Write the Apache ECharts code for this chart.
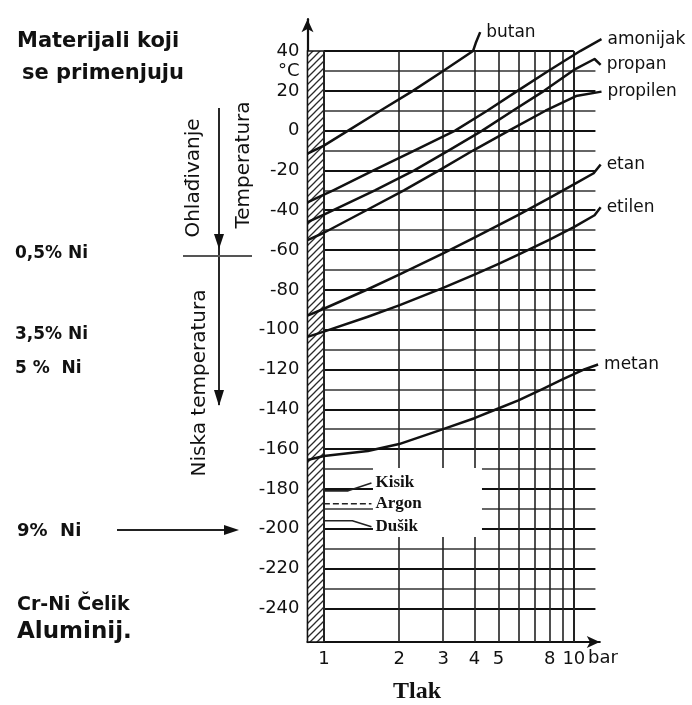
<!DOCTYPE html>
<html><head><meta charset="utf-8">
<script src="https://cdn.jsdelivr.net/npm/echarts@6/dist/echarts.min.js"></script>
<style>html,body{margin:0;padding:0;background:#fff}#c{width:692px;height:705px}</style>
</head><body><div id="c"></div>
<script>
// ---- data (pressure in bar, temperature in °C) ----
const butanP    = [0.86, 1, 1.25, 1.68, 2.27, 3.0, 3.95, 4.05, 4.22];
const butanT    = [-11.5, -7.5, 0, 10, 20, 30, 40, 44, 49.5];
const amonijakP = [0.86, 1, 1.09, 1.58, 2.3, 3.35, 4.5, 5.95, 7.9, 10.6, 12.9];
const amonijakT = [-36, -32.2, -30, -20, -10, 0, 10, 20, 30, 40, 46];
const propanP   = [0.86, 1, 1.6, 2.3, 3.15, 4.3, 5.7, 7.6, 10.0, 12.1, 12.8];
const propanT   = [-46, -42.2, -30, -20, -10, 0, 10, 20, 30.5, 36, 33];
const propilenP = [0.86, 1, 1.48, 2.09, 2.89, 3.95, 5.5, 7.7, 10.2, 12.9];
const propilenT = [-55, -51.3, -40, -30, -20, -10, 0, 10, 17.4, 19.6];
const etanP     = [0.86, 1, 1.5, 2, 3, 4, 5, 6, 8, 10, 12.0, 12.8];
const etanT     = [-93, -89.5, -79.7, -72.4, -61.7, -53.8, -47.5, -42.3, -33.8, -27, -21.4, -17];
const etilenP   = [0.86, 1, 1.5, 2, 3, 4, 5, 6, 8, 10, 12.1, 12.8];
const etilenT   = [-103.6, -101, -93.5, -87.8, -79, -72.3, -66.9, -62.3, -54.7, -48.5, -42.5, -38.5];
const metanP    = [0.86, 1, 1.5, 2, 3, 4, 4.9, 6, 7.45, 9, 11, 12.5];
const metanT    = [-165.5, -163.5, -161, -157.5, -150, -144.5, -140, -135.5, -130, -125, -120, -117.5];
const kisikP    = [1.0, 1.25, 1.55];
const kisikT    = [-181, -181, -177];
const argonP    = [1.0, 1.55];
const argonT    = [-187.5, -187.5];
const dusikP    = [1.0, 1.3, 1.55];
const dusikT    = [-196, -196, -199];

const gridTemps = [40,30,20,10,0,-10,-20,-30,-40,-50,-60,-70,-80,-90,-100,-110,-120,-130,-140,-150,-160,-170,-180,-190,-200,-210,-220,-230,-240];
const gridPress = [1,2,3,4,5,6,7,8,9,10];
const xTickLabels = [1,2,3,4,5,8,10];
const yTickLabels = [40,30,20,0,-20,-40,-60,-80,-100,-120,-140,-160,-180,-200,-220,-240];

const pMin = 0.86, pMax = 12.7, pGridEnd = 12.2, tMin = -257, tMax = 56, tTop = 40;
const boxP = [1.572, 4.29], boxT = [-169.5, -204.2];

// ---- helpers ----
const L = p => Math.log10(p);
const pts = (P, T) => P.map((p, i) => [L(p), T[i]]);
const FONT = 'DejaVu Sans';

// hatch pattern
const hc = document.createElement('canvas');
hc.width = 7; hc.height = 7;
const g = hc.getContext('2d');
g.fillStyle = '#fff'; g.fillRect(0,0,7,7);
g.strokeStyle = '#2a2a2a'; g.lineWidth = 1.3;
g.beginPath();
g.moveTo(-1,8); g.lineTo(8,-1);
g.moveTo(-1,1); g.lineTo(1,-1);
g.moveTo(6,8); g.lineTo(8,6);
g.stroke();

const gridData = [];
gridTemps.forEach(t => gridData.push({
  coords: [[L(1), t], [L(t === tTop ? 10 : pGridEnd), t]],
  lineStyle: { width: t % 20 === 0 ? 2 : 1.6, color: t % 20 === 0 ? '#111' : '#333' }
}));
gridPress.forEach(p => gridData.push({
  coords: [[L(p), tMin], [L(p), tTop]],
  lineStyle: { width: (p === 1 || p === 10) ? 2 : 1.6, color: '#222' }
}));

function curve(name, P, T, extra) {
  return Object.assign({
    name, type: 'line', z: 3, data: pts(P, T), symbol: 'none', smooth: false,
    clip: false, silent: true, animation: false,
    lineStyle: { color: '#111', width: 2.5, join: 'round' },
    endLabel: { show: true, formatter: name, distance: 6, color: '#111',
                fontFamily: FONT, fontSize: 17 }
  }, extra || {});
}
function gas(name, P, T, dashed) {
  return curve(name, P, T, {
    lineStyle: { color: '#222', width: 1.6, type: dashed ? [6, 3] : 'solid' },
    endLabel: { show: true, formatter: name, distance: 4, color: '#111',
                fontFamily: 'Liberation Serif', fontWeight: 'bold', fontSize: 17 }
  });
}

const chart = echarts.init(document.getElementById('c'), null, { renderer: 'canvas' });
chart.setOption({
  animation: false,
  backgroundColor: '#fff',
  grid: { left: 307.5, right: 92.2, top: 19.2, bottom: 62.9, containLabel: false, outerBoundsMode: 'none' },
  xAxis: {
    type: 'value', min: L(pMin), max: L(pMax),
    axisLine: { show: true, onZero: false, symbol: ['none', 'arrow'], symbolSize: [9, 13],
                lineStyle: { color: '#111', width: 2.2 } },
    axisTick: { show: false }, splitLine: { show: false },
    axisLabel: { customValues: xTickLabels.map(L), margin: 8, color: '#111', fontFamily: FONT, fontSize: 18,
                 formatter: v => String(Math.round(Math.pow(10, v))) }
  },
  yAxis: {
    type: 'value', min: tMin, max: tMax,
    axisLine: { show: true, onZero: false, symbol: ['none', 'arrow'], symbolSize: [9, 13],
                lineStyle: { color: '#111', width: 2.2 } },
    axisTick: { show: false }, splitLine: { show: false },
    axisLabel: { customValues: yTickLabels, margin: 8, color: '#111', fontFamily: FONT, fontSize: 18,
                 formatter: v => v === 30 ? '°C' : String(v) }
  },
  series: [
    {
      type: 'lines', coordinateSystem: 'cartesian2d', z: 1, silent: true, polyline: false,
      data: gridData, lineStyle: { color: '#222', width: 1.6, opacity: 1 },
      markArea: { silent: true, z: 1, label: { show: false },
        itemStyle: { color: { image: hc, repeat: 'repeat' }, borderColor: '#111', borderWidth: 1.5 },
        data: [[{ coord: [L(pMin), tMin] }, { coord: [L(1), tTop] }]] }
    },
    {
      type: 'line', z: 2, data: [[L(boxP[0]), boxT[0]]], symbol: 'none', silent: true,
      lineStyle: { width: 0, opacity: 0 },
      markArea: { silent: true, z: 2, label: { show: false }, itemStyle: { color: '#fff', opacity: 1 },
        data: [[{ coord: [L(boxP[0]), boxT[0]] }, { coord: [L(boxP[1]), boxT[1]] }]] }
    },
    curve('butan', butanP, butanT),
    curve('amonijak', amonijakP, amonijakT),
    curve('propan', propanP, propanT),
    curve('propilen', propilenP, propilenT),
    curve('etan', etanP, etanT),
    curve('etilen', etilenP, etilenT),
    curve('metan', metanP, metanT),
    gas('Kisik', kisikP, kisikT),
    gas('Argon', argonP, argonT, true),
    gas('Dušik', dusikP, dusikT)
  ],
  graphic: [
    { type: 'text', x: 17, y: 42, style: { text: 'Materijali koji', font: 'bold 21px "DejaVu Sans"', fill: '#111', verticalAlign: 'middle' } },
    { type: 'text', x: 22, y: 74, style: { text: 'se primenjuju', font: 'bold 21px "DejaVu Sans"', fill: '#111', verticalAlign: 'middle' } },
    { type: 'text', x: 194, y: 178, rotation: Math.PI / 2, style: { text: 'Ohlađivanje', font: '20px "DejaVu Sans"', fill: '#111', align: 'center', verticalAlign: 'middle' } },
    { type: 'text', x: 244, y: 165, rotation: Math.PI / 2, style: { text: 'Temperatura', font: '20px "DejaVu Sans"', fill: '#111', align: 'center', verticalAlign: 'middle' } },
    { type: 'text', x: 200, y: 383, rotation: Math.PI / 2, style: { text: 'Niska temperatura', font: '20px "DejaVu Sans"', fill: '#111', align: 'center', verticalAlign: 'middle' } },
    { type: 'text', x: 15, y: 254, style: { text: '0,5% Ni', font: 'bold 17px "DejaVu Sans"', fill: '#111', verticalAlign: 'middle' } },
    { type: 'text', x: 15, y: 335, style: { text: '3,5% Ni', font: 'bold 17px "DejaVu Sans"', fill: '#111', verticalAlign: 'middle' } },
    { type: 'text', x: 15, y: 369, style: { text: '5 %  Ni', font: 'bold 17px "DejaVu Sans"', fill: '#111', verticalAlign: 'middle' } },
    { type: 'text', x: 17, y: 531, style: { text: '9%  Ni', font: 'bold 18px "DejaVu Sans"', fill: '#111', verticalAlign: 'middle' } },
    { type: 'text', x: 17, y: 605, style: { text: 'Cr-Ni Čelik', font: 'bold 19px "DejaVu Sans"', fill: '#111', verticalAlign: 'middle' } },
    { type: 'text', x: 17, y: 632, style: { text: 'Aluminij.', font: 'bold 23px "DejaVu Sans"', fill: '#111', verticalAlign: 'middle' } },
    { type: 'text', x: 588, y: 658, style: { text: 'bar', font: '18px "DejaVu Sans"', fill: '#111', verticalAlign: 'middle' } },
    { type: 'text', x: 417, y: 692, style: { text: 'Tlak', font: 'bold 24px "Liberation Serif"', fill: '#111', align: 'center', verticalAlign: 'middle' } },
    { type: 'line', shape: { x1: 219, y1: 108, x2: 219, y2: 405 }, style: { stroke: '#111', lineWidth: 1.8 } },
    { type: 'polygon', shape: { points: [[214, 234], [224, 234], [219, 249]] }, style: { fill: '#111' } },
    { type: 'polygon', shape: { points: [[214, 390], [224, 390], [219, 406]] }, style: { fill: '#111' } },
    { type: 'line', shape: { x1: 183, y1: 256, x2: 252, y2: 256 }, style: { stroke: '#555', lineWidth: 2 } },
    { type: 'line', shape: { x1: 117, y1: 530, x2: 230, y2: 530 }, style: { stroke: '#222', lineWidth: 2 } },
    { type: 'polygon', shape: { points: [[224, 525], [224, 535], [239, 530]] }, style: { fill: '#111' } }
  ]
});
</script></body></html>
